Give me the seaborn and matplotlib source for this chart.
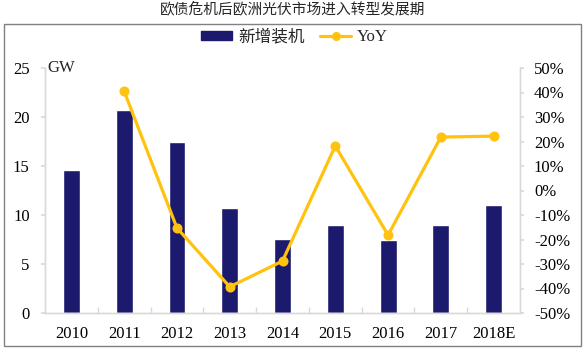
import numpy as np
import pandas as pd
import matplotlib
matplotlib.use("Agg")
import matplotlib.pyplot as plt
import seaborn as sns
from matplotlib.patches import Patch, Rectangle
from matplotlib.lines import Line2D
from matplotlib.ticker import FuncFormatter, FixedLocator

years = ["2010", "2011", "2012", "2013", "2014", "2015", "2016", "2017", "2018E"]
capacity = [14.6, 20.7, 17.5, 10.7, 7.6, 9.0, 7.4, 9.0, 11.0]
yoy_years = ["2011", "2012", "2013", "2014", "2015", "2016", "2017", "2018E"]
yoy = [40.5, -15.3, -39.3, -28.8, 18.2, -18.2, 21.8, 22.2]

title = "欧债危机后欧洲光伏市场进入转型发展期"
bar_label = "新增装机"
line_label = "YoY"
unit = "GW"

sns.set_theme(style="white")
plt.rcParams["font.family"] = ["Liberation Serif", "Noto Sans CJK SC", "DejaVu Sans"]

navy = "#1b1a6c"
gold = "#FFC20E"
grey = "#d9d9d9"

fig = plt.figure(figsize=(5.86, 3.52), dpi=100)
ax = fig.add_axes([45/586, 1-313/352, (520-45)/586, (313-68)/352])

df_bar = pd.DataFrame({"year": years, "cap": capacity})
sns.barplot(data=df_bar, x="year", y="cap", order=years, color=navy,
            width=0.32, saturation=1, ax=ax)
ax.set_ylim(0, 25)
ax.set_yticks(range(0, 26, 5))
ax.set_xlim(-0.5, len(years) - 0.5)
ax.set_xlabel("")
ax.set_ylabel("")

ax2 = ax.twinx()
df_line = pd.DataFrame({"year": yoy_years, "yoy": yoy})
sns.pointplot(data=df_line, x="year", y="yoy", order=years, color=gold,
              markers="o", markersize=5.5, linewidth=2.3, ax=ax2)
ax2.set_ylim(-50, 50)
ax2.set_yticks(range(-50, 51, 10))
ax2.yaxis.set_major_formatter(FuncFormatter(lambda v, p: f"{int(round(v))}%"))
ax2.set_ylabel("")
ax2.set_xlim(-0.5, len(years) - 0.5)

for a in (ax, ax2):
    a.spines["top"].set_visible(False)
    for s in ["left", "right", "bottom"]:
        a.spines[s].set_color(grey)
        a.spines[s].set_linewidth(1)

ax.tick_params(axis="y", which="major", length=3, color=grey, direction="out",
               pad=8, labelsize=12, left=True)
ax2.tick_params(axis="y", which="major", length=3, color=grey, direction="out",
                pad=7, labelsize=12, right=True)
ax.tick_params(axis="x", which="major", length=0, pad=9, labelsize=12)
ax.xaxis.set_minor_locator(FixedLocator(np.arange(0.5, len(years) - 1, 1)))
ax.tick_params(axis="x", which="minor", length=4, color=grey, direction="in",
               bottom=True)

for lab in ax.get_xticklabels() + ax.get_yticklabels() + ax2.get_yticklabels():
    lab.set_color("#000000")

ax.text(0.005, 1.0, unit, transform=ax.transAxes, ha="left", va="center",
        fontsize=12)

handles = [Patch(facecolor=navy, edgecolor=navy),
           Line2D([0], [0], color=gold, lw=2.3, marker="o", markersize=5.5)]
fig.legend(handles, [bar_label, line_label], loc="center",
           bbox_to_anchor=(294.5/586, 1-37/352), ncol=2, frameon=False,
           handlelength=1.9, handleheight=0.45,
           columnspacing=0.9, handletextpad=0.35,
           prop={"family": ["Liberation Serif", "Noto Sans CJK SC"], "size": 12})

fig.text(292.5/586, 1-9/352, title, ha="center", va="center", fontsize=10.6,
         family=["Noto Sans CJK SC", "DejaVu Sans"])

fig.patches.append(Rectangle((4/586, 1-346/352), (581-4)/586, (346-24)/352,
                             transform=fig.transFigure, fill=False,
                             edgecolor="#808080", linewidth=1))

fig.savefig("out.png", dpi=100)
